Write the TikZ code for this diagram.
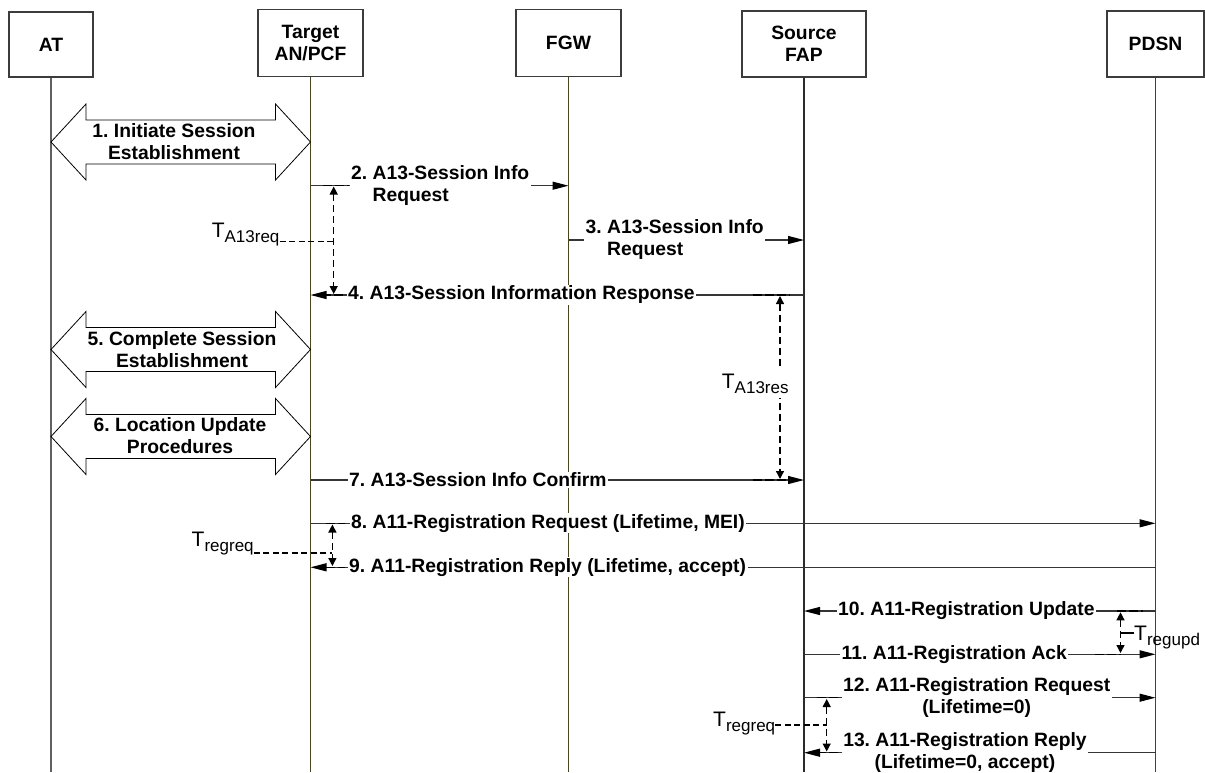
\documentclass[tikz,border=0pt]{standalone}
\usepackage{fontspec}
\setmainfont{Liberation Sans}
\usetikzlibrary{arrows.meta}

\definecolor{boxline}{HTML}{3C3C3C}
\definecolor{lifegray}{HTML}{606060}
\definecolor{lifeolive}{HTML}{47471E}
\definecolor{lifedark}{HTML}{2A2A2A}
\definecolor{msgline}{HTML}{353535}

\newcommand\msgfont{\frenchspacing\bfseries\fontsize{19.3}{22}\selectfont}
\newcommand\tfont{\fontsize{21}{21}\selectfont}
\newcommand\subfont{\fontsize{17}{17}\selectfont}
\newcommand\tlabel[1]{{\tfont T}{\subfont\raisebox{-5pt}{#1}}}

\tikzset{
  actor/.style={draw=boxline, line width=1.1pt, fill=white, align=center,
                font=\msgfont, inner sep=0pt},
  life/.style={draw=#1, line width=1.4pt},
  fatarrow/.style={draw=black, line width=0.8pt, fill=white, line join=miter},
  bigtxt/.style={font=\msgfont, align=center, inner sep=0pt},
  msg/.style={draw=msgline, line width=1.2pt,
              -{Triangle[length=16pt,width=8pt,color=black]}},
  lbl/.style={fill=white, font=\msgfont, inner xsep=1.5pt, inner ysep=1pt},
  timer/.style={draw=black, line width=1.3pt, dash pattern=on 7pt off 4pt,
                {Triangle[length=8pt,width=8pt]}-{Triangle[length=8pt,width=8pt]}},
  timerbar/.style={draw=black, line width=1.3pt, dash pattern=on 9pt off 3pt},
  leader/.style={draw=black, line width=1.3pt, dash pattern=on 6pt off 3.5pt},
  tlbl/.style={inner sep=0pt, font=\tfont},
}

\begin{document}
\begin{tikzpicture}[x=1pt,y=-1pt]
\useasboundingbox (0,0) rectangle (1205,772);
\fill[white] (0,0) rectangle (1205,772);

% ---- participants ----
\node[actor, minimum width=84pt,  minimum height=65pt]   (at)   at (51,44.5)    {AT};
\node[actor, minimum width=105pt, minimum height=67.5pt] (tgt)  at (310.5,43)   {Target\\AN/PCF};
\node[actor, minimum width=105pt, minimum height=67.5pt] (fgw)  at (568.5,43)   {FGW};
\node[actor, minimum width=124pt, minimum height=66pt]   (fap)  at (804,44)     {Source\\FAP};
\node[actor, minimum width=97pt,  minimum height=66pt]   (pdsn) at (1155.5,44)  {PDSN};

% ---- lifelines ----
\coordinate (atE)   at (at.south |- 0,772);
\coordinate (tgtE)  at (tgt.south |- 0,772);
\coordinate (fgwE)  at (fgw.south |- 0,772);
\coordinate (fapE)  at (fap.south |- 0,772);
\coordinate (pdsnE) at (pdsn.south |- 0,772);
\draw[life=lifegray]  (at)   -- (atE);
\draw[life=lifeolive] (tgt)  -- (tgtE);
\draw[life=lifeolive] (fgw)  -- (fgwE);
\draw[life=lifedark]  (fap)  -- (fapE);
\draw[life=lifeolive] (pdsn) -- (pdsnE);

% ---- two-way procedure arrows between AT and Target AN/PCF ----
\foreach \c in {142,349.5,436.5}{
  \draw[fatarrow] (51,\c) -- (86,\c-38) -- (86,\c-22) -- (275.5,\c-22)
     -- (275.5,\c-38) -- (310.5,\c) -- (275.5,\c+38) -- (275.5,\c+22)
     -- (86,\c+22) -- (86,\c+38) -- cycle;
}
\node[bigtxt] (s1) at (174,142)   {1. Initiate Session\\Establishment};
\node[bigtxt] (s5) at (182,349.5) {5. Complete Session\\Establishment};
\node[bigtxt] (s6) at (180,436)   {6. Location Update\\Procedures};

% ---- messages ----
\coordinate (m2a)  at (tgt  |- 0,185.7); \coordinate (m2b)  at (fgw  |- 0,185.7);
\coordinate (m3a)  at (fgw  |- 0,240);   \coordinate (m3b)  at (fap  |- 0,240);
\coordinate (m4a)  at (fap  |- 0,295);   \coordinate (m4b)  at (tgt  |- 0,295);
\coordinate (m7a)  at (tgt  |- 0,480);   \coordinate (m7b)  at (fap  |- 0,480);
\coordinate (m8a)  at (tgt  |- 0,523.3); \coordinate (m8b)  at (pdsn |- 0,523.3);
\coordinate (m9a)  at (pdsn |- 0,567.3); \coordinate (m9b)  at (tgt  |- 0,567.3);
\coordinate (m10a) at (pdsn |- 0,611);   \coordinate (m10b) at (fap  |- 0,611);
\coordinate (m11a) at (fap  |- 0,654.3); \coordinate (m11b) at (pdsn |- 0,654.3);
\coordinate (m12a) at (fap  |- 0,697.7); \coordinate (m12b) at (pdsn |- 0,697.7);
\coordinate (m13a) at (pdsn |- 0,752.7); \coordinate (m13b) at (fap  |- 0,752.7);

\draw[msg] (m2a) -- (m2b);
\draw[msg] (m3a) -- (m3b);
\draw[msg] (m4a) -- (m4b);
\draw[msg] (m7a) -- (m7b);
\draw[msg] (m8a) -- (m8b);
\draw[msg] (m9a) -- (m9b);
\draw[msg] (m10a) -- (m10b);
\draw[msg] (m11a) -- (m11b);
\draw[msg] (m12a) -- (m12b);
\draw[msg] (m13a) -- (m13b);

\node[lbl, anchor=west, align=left] (l2) at (349.5,185.7) {2. A13-Session Info\\\phantom{2. }Request};
\node[lbl, anchor=west, align=left] (l3) at (584,240)     {3. A13-Session Info\\\phantom{3. }Request};
\node[lbl, anchor=west] (l4)  at (346.5,295)   {4. A13-Session Information Response};
\node[lbl, anchor=west] (l7)  at (347.5,480)   {7. A13-Session Info Confirm};
\node[lbl, anchor=west] (l8)  at (349.5,523.3) {8. A11-Registration Request (Lifetime, MEI)};
\node[lbl, anchor=west] (l9)  at (347.5,567.3) {9. A11-Registration Reply (Lifetime, accept)};
\node[lbl, anchor=west] (l10) at (836.5,611)   {10. A11-Registration Update};
\node[lbl, anchor=west] (l11) at (840,654.3)   {11. A11-Registration Ack};
\node[lbl, align=center] (l12) at (976.7,697.7) {12. A11-Registration Request\\(Lifetime=0)};
\node[lbl, align=center] (l13) at (965,752.5)   {13. A11-Registration Reply\\(Lifetime=0, accept)};

% ---- timers ----
% TA13req
\coordinate (t1top) at (333.7,186.5); \coordinate (t1bot) at (333.7,294);
\coordinate (t1mid) at (333.7,241.7);
\draw[timerbar] (323,185.7) -- (349,185.7);
\draw[timerbar] (322,295) -- (345,295);
\draw[timer] (t1top) -- (t1bot);
\node[tlbl, anchor=base west] (t1) at (211.6,237) {\tlabel{A13req}};
\draw[leader] (t1.east |- t1mid) -- (t1mid);

% TA13res
\coordinate (t2top) at (780,296); \coordinate (t2bot) at (780,479);
\draw[timerbar] (753,295) -- (790,295);
\draw[timerbar] (753,480) -- (790,480);
\draw[timer] (t2top) -- (t2bot);
\node[tlbl, fill=white, inner ysep=5pt, anchor=base west] (t2) at (721.7,388.3) {\tlabel{A13res}};

% Tregreq (steps 8/9)
\coordinate (t3top) at (332.4,524.5); \coordinate (t3bot) at (332.4,566);
\coordinate (t3mid) at (332.4,553);
\draw[timerbar] (326,523.3) -- (345,523.3);
\draw[timerbar] (326,567.3) -- (345,567.3);
\draw[timer] (t3top) -- (t3bot);
\node[tlbl, anchor=base west] (t3) at (191.5,546.5) {\tlabel{regreq}};
\draw[leader] (t3.east |- t3mid) -- (t3mid);

% Tregupd (steps 10/11)
\coordinate (t4top) at (1120.5,612.3); \coordinate (t4bot) at (1120.5,653);
\coordinate (t4mid) at (1120.5,633);
\draw[timerbar] (1117,611) -- (1143,611);
\draw[timerbar] (1095,654.3) -- (1120.5,654.3);
\draw[timer] (t4top) -- (t4bot);
\node[tlbl, anchor=base west] (t4) at (1134,640) {\tlabel{regupd}};
\draw[draw=black, line width=1.3pt] (t4mid) -- (t4.west |- t4mid);

% Tregreq (steps 12/13)
\coordinate (t5top) at (826.7,699); \coordinate (t5bot) at (826.7,751.5);
\coordinate (t5mid) at (826.7,725);
\draw[timerbar] (816.7,697.7) -- (838,697.7);
\draw[timerbar] (816.7,752.7) -- (838,752.7);
\draw[timer] (t5top) -- (t5bot);
\node[tlbl, anchor=base west] (t5) at (713,726.7) {\tlabel{regreq}};
\draw[leader] (t5.east |- t5mid) -- (t5mid);

\end{tikzpicture}
\end{document}
